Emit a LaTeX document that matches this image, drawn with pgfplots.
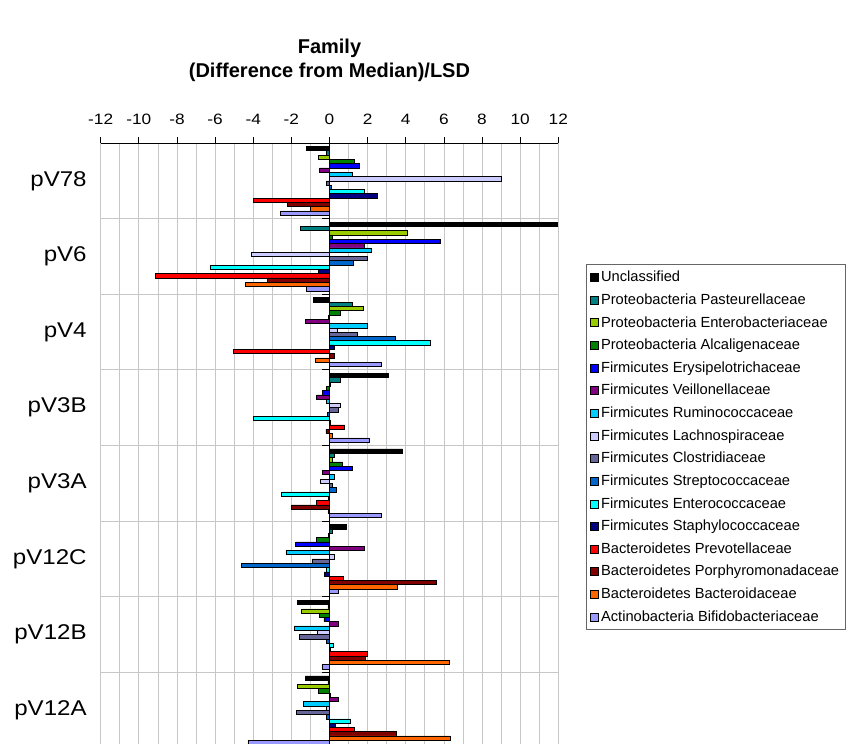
\documentclass[border=0pt]{standalone}
\usepackage{graphicx}
\usepackage{pgfplots}
\pgfplotsset{compat=1.18}
\usepackage{pgfplotstable}
\usepackage{fontspec}
\setmainfont{Liberation Sans}

\definecolor{cTeal}{RGB}{0,128,128}
\definecolor{cYG}{RGB}{153,204,0}
\definecolor{cGreen}{RGB}{0,128,0}
\definecolor{cBlue}{RGB}{0,0,255}
\definecolor{cPurple}{RGB}{128,0,128}
\definecolor{cSky}{RGB}{0,204,255}
\definecolor{cLav}{RGB}{204,204,255}
\definecolor{cSlate}{RGB}{102,102,153}
\definecolor{cStrep}{RGB}{0,102,204}
\definecolor{cCyan}{RGB}{0,255,255}
\definecolor{cNavy}{RGB}{0,0,128}
\definecolor{cRed}{RGB}{255,0,0}
\definecolor{cDRed}{RGB}{128,0,0}
\definecolor{cOrange}{RGB}{255,102,0}
\definecolor{cBifi}{RGB}{153,153,255}

\newcommand{\gl}[1]{\scalebox{1.13}[1]{#1}}

\pgfplotstableread{
g S1 S2 S3 S4 S5 S6 S7 S8 S9 S10 S11 S12 S13 S14 S15 S16
0 -1.22 -0.15 -0.58 1.29 1.54 -0.52 1.17 9.02 -0.16 0.10 1.84 2.53 -4.00 -2.20 -1.01 -2.59
1 11.92 -1.52 4.06 0.16 5.79 1.84 2.17 -4.11 1.99 1.26 -6.28 -0.58 -9.13 -3.25 -4.41 -1.22
2 -0.84 1.17 1.75 0.58 -0.05 -1.26 1.96 0.42 1.43 3.43 5.31 0.23 -5.05 0.24 -0.73 2.74
3 3.09 0.56 0.02 -0.16 -0.37 -0.68 -0.17 0.54 0.44 -0.10 -4.00 0.03 0.80 -0.19 0.12 2.06
4 3.83 0.23 0.14 0.66 1.17 -0.37 0.23 -0.51 0.17 0.38 -2.52 -0.05 -0.68 -1.99 -0.09 2.74
5 0.87 0.12 -0.07 -0.68 -1.78 1.80 -2.29 0.23 -0.93 -4.62 -0.17 -0.28 0.70 5.59 3.53 0.47
6 -1.68 -0.09 -1.47 -0.52 -0.30 0.44 -1.85 -0.63 -1.57 -0.16 0.21 0.02 1.96 1.85 6.26 -0.40
7 -1.26 -0.09 -1.68 -0.58 0.03 0.47 -1.36 -0.19 -1.75 -0.16 1.10 0.28 1.31 3.48 6.33 -4.28
}\datatable

\begin{document}
\begin{tikzpicture}
\path[use as bounding box] (0pt,0pt) rectangle (634.5pt,-557.25pt);
\node[font=\fontsize{15}{18}\selectfont\bfseries, align=center] at (247.1pt,-45pt) {Family\\(Difference from Median)/LSD};
\begin{axis}[
  at={(75.53pt,-107.25pt)}, anchor=north west,
  scale only axis, width=343.2pt, height=453.75pt,
  xbar,
  xmin=-12, xmax=12,
  ymin=-0.5, ymax=7.5, y dir=reverse,
  xtick={-12,-10,...,12}, minor x tick num=1,
  xmajorgrids, xminorgrids,
  ytick={0,...,7},
  yticklabels={\gl{pV78},\gl{pV6},\gl{pV4},\gl{pV3B},\gl{pV3A},\gl{pV12C},\gl{pV12B},\gl{pV12A}},
  minor ytick={0.5,1.5,...,6.5}, yminorgrids,
  grid style={black!22, line width=0.6pt},
  axis x line*=top, axis y line*=left,
  y axis line style={draw=none},
  x axis line style={black, line width=0.75pt},
  xtick align=outside,
  major tick length=4.3pt, minor tick length=0pt,
  xtick style={black, line width=0.6pt},
  ytick style={draw=none},
  /pgf/number format/assume math mode=true,
  xticklabel={\scalebox{1.15}[1]{\pgfmathprintnumber{\tick}}},
  xticklabel style={font=\fontsize{11.25}{13}\selectfont, yshift=6pt},
  yticklabel style={font=\fontsize{16}{18}\selectfont, xshift=-2.7pt},
  extra x ticks={0}, extra x tick labels={},
  extra x tick style={grid=major, major grid style={black, line width=0.75pt}},
  bar width=0.0568,
  every axis plot/.append style={draw=black, line width=0.4pt},
  legend style={at={(1.0606,0.8)}, anchor=north west, draw=black!60, line width=0.75pt, fill=white,
    font=\fontsize{11}{13}\selectfont, cells={anchor=west}, row sep=3.5pt, inner xsep=2.5pt, inner ysep=3pt},
  legend image code/.code={\draw[#1, draw=black, line width=0.4pt] (0pt,-3pt) rectangle (6pt,3pt);},
]
\addplot[fill=black, bar shift=-0.426] table[x=S1,y=g]{\datatable};
\addplot[fill=cTeal, bar shift=-0.3692] table[x=S2,y=g]{\datatable};
\addplot[fill=cYG, bar shift=-0.3124] table[x=S3,y=g]{\datatable};
\addplot[fill=cGreen, bar shift=-0.2556] table[x=S4,y=g]{\datatable};
\addplot[fill=cBlue, bar shift=-0.1988] table[x=S5,y=g]{\datatable};
\addplot[fill=cPurple, bar shift=-0.142] table[x=S6,y=g]{\datatable};
\addplot[fill=cSky, bar shift=-0.0852] table[x=S7,y=g]{\datatable};
\addplot[fill=cLav, bar shift=-0.0284] table[x=S8,y=g]{\datatable};
\addplot[fill=cSlate, bar shift=0.0284] table[x=S9,y=g]{\datatable};
\addplot[fill=cStrep, bar shift=0.0852] table[x=S10,y=g]{\datatable};
\addplot[fill=cCyan, bar shift=0.142] table[x=S11,y=g]{\datatable};
\addplot[fill=cNavy, bar shift=0.1988] table[x=S12,y=g]{\datatable};
\addplot[fill=cRed, bar shift=0.2556] table[x=S13,y=g]{\datatable};
\addplot[fill=cDRed, bar shift=0.3124] table[x=S14,y=g]{\datatable};
\addplot[fill=cOrange, bar shift=0.3692] table[x=S15,y=g]{\datatable};
\addplot[fill=cBifi, bar shift=0.426] table[x=S16,y=g]{\datatable};
\legend{Unclassified, Proteobacteria Pasteurellaceae, Proteobacteria Enterobacteriaceae, Proteobacteria Alcaligenaceae, Firmicutes Erysipelotrichaceae, Firmicutes Veillonellaceae, Firmicutes Ruminococcaceae, Firmicutes Lachnospiraceae, Firmicutes Clostridiaceae, Firmicutes Streptococcaceae, Firmicutes Enterococcaceae, Firmicutes Staphylococcaceae, Bacteroidetes Prevotellaceae, Bacteroidetes Porphyromonadaceae, Bacteroidetes Bacteroidaceae, Actinobacteria Bifidobacteriaceae}
\pgfplotsinvokeforeach{0.5,1.5,2.5,3.5,4.5,5.5,6.5}{\draw[black, line width=0.75pt] (axis cs:0,#1) -- ++(-6pt,0pt);}
\end{axis}
\end{tikzpicture}
\end{document}
